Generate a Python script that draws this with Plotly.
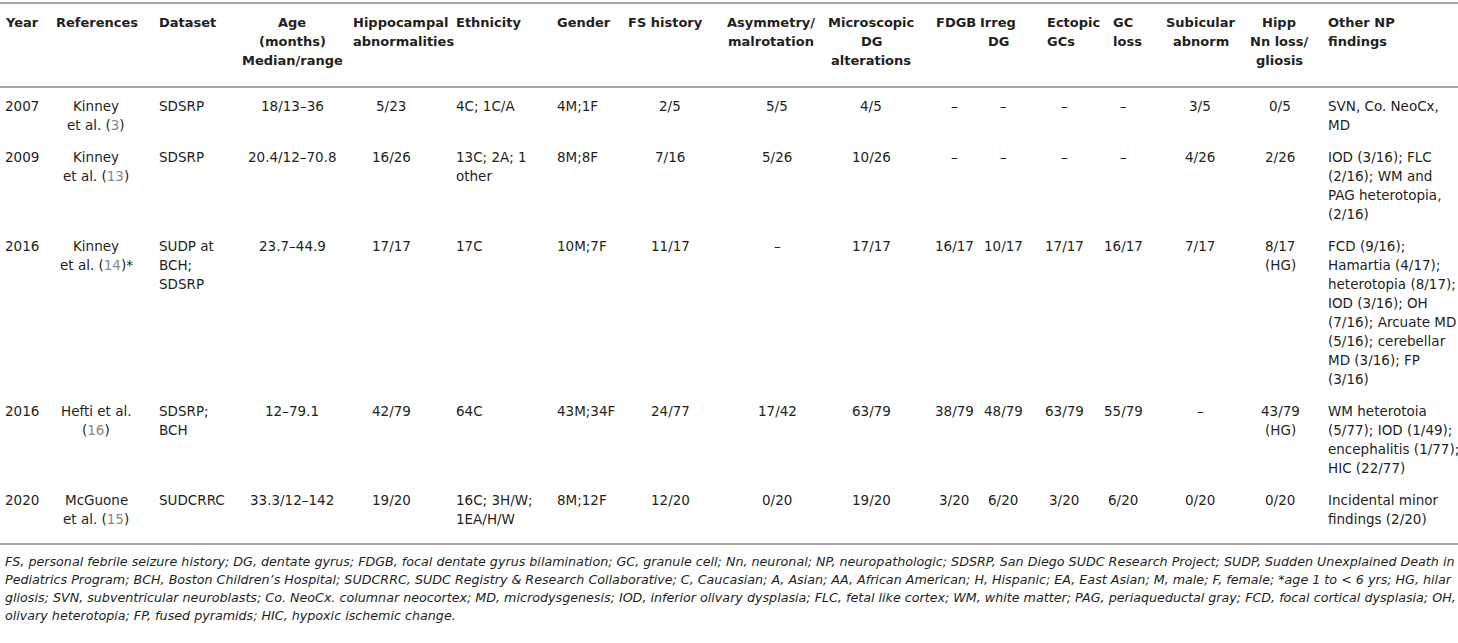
import plotly.graph_objects as go

# Table content (one string per cell, "\n" = line break, [n] = grey citation number)

headers = [
    "Year", "References", "Dataset", "Age\n(months)\nMedian/range",
    "Hippocampal\nabnormalities", "Ethnicity", "Gender", "FS history",
    "Asymmetry/\nmalrotation", "Microscopic\nDG\nalterations", "FDGB",
    "Irreg\nDG", "Ectopic\nGCs", "GC\nloss", "Subicular\nabnorm",
    "Hipp\nNn loss/\ngliosis", "Other NP\nfindings",
]

year = ["2007", "2009", "2016", "2016", "2020"]
references = ["Kinney\net al. ([3])", "Kinney\net al. ([13])", "Kinney\net al. ([14])*",
              "Hefti et al.\n([16])", "McGuone\net al. ([15])"]
dataset = ["SDSRP", "SDSRP", "SUDP at\nBCH;\nSDSRP", "SDSRP;\nBCH", "SUDCRRC"]
age = ["18/13–36", "20.4/12–70.8", "23.7–44.9", "12–79.1", "33.3/12–142"]
hippocampal = ["5/23", "16/26", "17/17", "42/79", "19/20"]
ethnicity = ["4C; 1C/A", "13C; 2A; 1\nother", "17C", "64C", "16C; 3H/W;\n1EA/H/W"]
gender = ["4M;1F", "8M;8F", "10M;7F", "43M;34F", "8M;12F"]
fs_history = ["2/5", "7/16", "11/17", "24/77", "12/20"]
asymmetry = ["5/5", "5/26", "–", "17/42", "0/20"]
microscopic_dg = ["4/5", "10/26", "17/17", "63/79", "19/20"]
fdgb = ["–", "–", "16/17", "38/79", "3/20"]
irreg_dg = ["–", "–", "10/17", "48/79", "6/20"]
ectopic_gcs = ["–", "–", "17/17", "63/79", "3/20"]
gc_loss = ["–", "–", "16/17", "55/79", "6/20"]
subicular = ["3/5", "4/26", "7/17", "–", "0/20"]
hipp_nn_loss = ["0/5", "2/26", "8/17\n(HG)", "43/79\n(HG)", "0/20"]
other_np = [
    "SVN, Co. NeoCx,\nMD",
    "IOD (3/16); FLC\n(2/16); WM and\nPAG heterotopia,\n(2/16)",
    "FCD (9/16);\nHamartia (4/17);\nheterotopia (8/17);\nIOD (3/16); OH\n(7/16); Arcuate MD\n(5/16); cerebellar\nMD (3/16); FP\n(3/16)",
    "WM heterotoia\n(5/77); IOD (1/49);\nencephalitis (1/77);\nHIC (22/77)",
    "Incidental minor\nfindings (2/20)",
]

footnote = [
    "FS, personal febrile seizure history; DG, dentate gyrus; FDGB, focal dentate gyrus bilamination; GC, granule cell; Nn, neuronal; NP, neuropathologic; SDSRP, San Diego SUDC Research Project; SUDP, Sudden Unexplained Death in",
    "Pediatrics Program; BCH, Boston Children’s Hospital; SUDCRRC, SUDC Registry & Research Collaborative; C, Caucasian; A, Asian; AA, African American; H, Hispanic; EA, East Asian; M, male; F, female; *age 1 to &lt; 6 yrs; HG, hilar",
    "gliosis; SVN, subventricular neuroblasts; Co. NeoCx. columnar neocortex; MD, microdysgenesis; IOD, inferior olivary dysplasia; FLC, fetal like cortex; WM, white matter; PAG, periaqueductal gray; FCD, focal cortical dysplasia; OH,",
    "olivary heterotopia; FP, fused pyramids; HIC, hypoxic ischemic change.",
]

columns = [year, references, dataset, age, hippocampal, ethnicity, gender,
           fs_history, asymmetry, microscopic_dg, fdgb, irreg_dg, ectopic_gcs,
           gc_loss, subicular, hipp_nn_loss, other_np]

# layout: (header x, header anchor, body x, body anchor)
col_pos = [
    (3, "left", 3, "left"),
    (54, "left", 96, "center"),
    (157, "left", 157, "left"),
    (292, "center", 292, "center"),
    (351, "left", 391, "center"),
    (454, "left", 454, "left"),
    (555, "left", 555, "left"),
    (626, "left", 670, "center"),
    (771, "center", 777, "center"),
    (871, "center", 871, "center"),
    (934, "left", 954, "center"),
    (998, "center", 1003, "center"),
    (1045, "left", 1064, "center"),
    (1111, "left", 1123, "center"),
    (1201, "center", 1200, "center"),
    (1279, "center", 1280, "center"),
    (1326, "left", 1326, "left"),
]

W, H = 1458, 643
LINE = 19
TEXT = "#231f20"
REFGRAY = "#8a8a8a"
RULE = "#a6a6a6"
FONT = "DejaVu Sans"

fig = go.Figure()
annotations = []


def add_lines(text, x, anchor, y0, size, bold=False, italic=False, step=LINE):
    for k, line in enumerate(text.split("\n")):
        line = line.replace("[", f'<span style="color:{REFGRAY}">').replace("]", "</span>")
        if bold:
            line = f"<b>{line}</b>"
        if italic:
            line = f"<i>{line}</i>"
        annotations.append(dict(
            x=x, y=y0 + k * step, xref="x", yref="y", text=line,
            showarrow=False, xanchor=anchor, yanchor="middle",
            font=dict(family=FONT, size=size, color=TEXT),
        ))


# header
for head, (hx, ha, _, _) in zip(headers, col_pos):
    add_lines(head, hx, ha, 22, 13, bold=True)

# body rows, height follows the tallest cell
y = 106
for r in range(len(year)):
    for col, (_, _, bx, ba) in zip(columns, col_pos):
        add_lines(col[r], bx, ba, y, 13.5)
    n = max(len(col[r].split("\n")) for col in columns)
    y += n * LINE + 13

bottom_rule = y - 7
for k, line in enumerate(footnote):
    add_lines(line, 3, "left", bottom_rule + 17 + k * 18, 12.7, italic=True)

for ry in [3, 87, bottom_rule]:
    fig.add_shape(type="line", x0=0, x1=W, y0=ry, y1=ry, xref="x", yref="y",
                  line=dict(color=RULE, width=2))

fig.update_layout(
    width=W, height=H,
    margin=dict(l=0, r=0, t=0, b=0),
    plot_bgcolor="white", paper_bgcolor="white",
    xaxis=dict(range=[0, W], visible=False, fixedrange=True),
    yaxis=dict(range=[H, 0], visible=False, fixedrange=True),
    annotations=annotations,
    showlegend=False,
)

# page body has a default 8px margin; drop it so the figure sits at the corner
fig.write_html("out.html", config={"displayModeBar": False},
               post_script="document.body.style.margin='0';")
